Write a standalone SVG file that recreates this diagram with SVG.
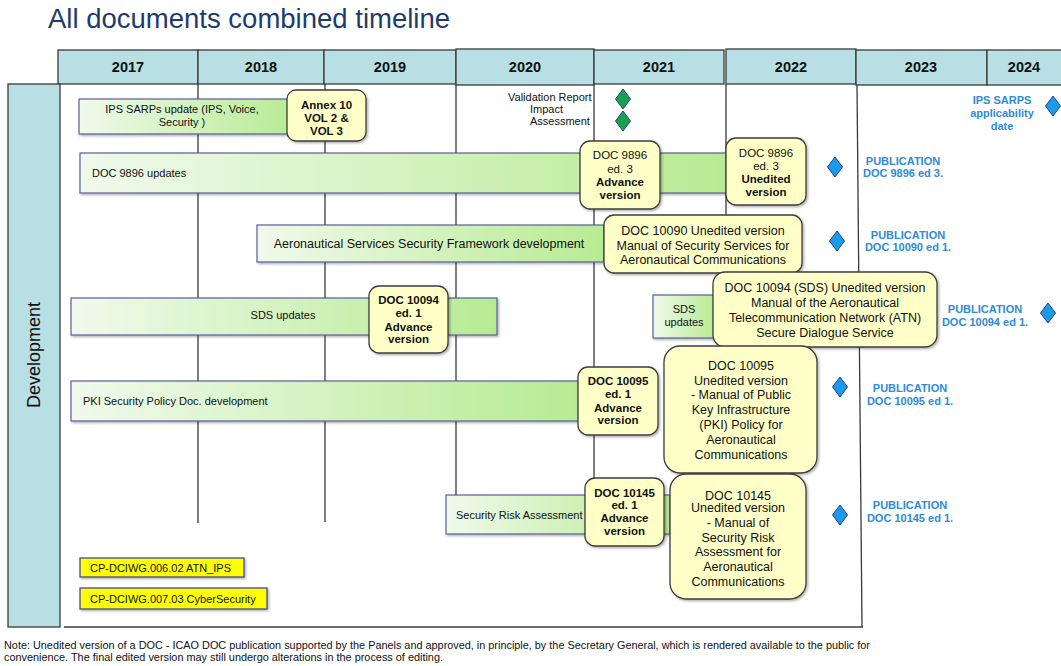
<svg xmlns="http://www.w3.org/2000/svg" width="1061" height="666" viewBox="0 0 1061 666">
<style>
text{font-family:"Liberation Sans",Arial,sans-serif;fill:#111}
.title{font-size:27.5px;fill:#1F3B6E}
.hdr{fill:#B8DFE3;stroke:#3a3a3a;stroke-width:1.3}
.yr{font-size:14.5px;font-weight:bold;text-anchor:middle}
.grid{stroke:#3a3a3a;stroke-width:1.3;fill:none}
.bar{fill:url(#g);stroke:#5A5C9E;stroke-width:1.2;filter:url(#sh)}
.box{fill:#FFFFC8;stroke:#3c3c3c;stroke-width:1.3;filter:url(#sh)}
.bt{font-size:11px}
.c{text-anchor:middle}
.b{font-weight:bold}
.s{font-size:11.5px}
.m{font-size:12.5px}
.pub{font-size:11px;font-weight:bold;fill:#2E8BD6;text-anchor:middle}
.blue{fill:#1A9BEA;stroke:#2B3F8F;stroke-width:1}
.green{fill:#17A34A;stroke:#2B3F8F;stroke-width:1}
.note{fill:#FFFF00;stroke:#3A3AA0;stroke-width:1.2;filter:url(#sh)}
</style>
<defs>
<linearGradient id="g" x1="0" y1="0" x2="1" y2="0">
<stop offset="0" stop-color="#F0FAEC"/>
<stop offset="1" stop-color="#B7EB92"/>
</linearGradient>
<filter id="sh" x="-5%" y="-10%" width="115%" height="130%">
<feDropShadow dx="1.5" dy="1.5" stdDeviation="1" flood-color="#000" flood-opacity="0.3"/>
</filter>
<path id="dia" d="M0,-10 L7.5,0 L0,10 L-7.5,0 Z"/>
</defs>
<rect width="1061" height="666" fill="#fff"/>
<text class="title" x="48" y="28">All documents combined timeline</text>

<g id="header">
<rect class="hdr" x="58" y="50" width="140" height="34"/>
<rect class="hdr" x="198" y="50" width="126" height="34"/>
<rect class="hdr" x="324" y="50" width="132" height="34"/>
<rect class="hdr" x="456" y="49" width="138" height="36"/>
<rect class="hdr" x="594" y="50" width="130" height="34"/>
<rect class="hdr" x="726" y="49" width="130" height="35"/>
<rect class="hdr" x="856" y="50" width="131" height="35"/>
<rect class="hdr" x="987" y="50" width="80" height="35"/>
<text class="yr" x="128" y="72">2017</text>
<text class="yr" x="261" y="72">2018</text>
<text class="yr" x="390" y="72">2019</text>
<text class="yr" x="525" y="72">2020</text>
<text class="yr" x="659" y="72">2021</text>
<text class="yr" x="791" y="72">2022</text>
<text class="yr" x="921" y="72">2023</text>
<text class="yr" x="1024" y="72">2024</text>
</g>

<g id="lane">
<rect class="hdr" x="8" y="84" width="52" height="543"/>
<text x="34" y="355" font-size="18" text-anchor="middle" dominant-baseline="central" transform="rotate(-90 34 355)">Development</text>
</g>

<g id="connectors">
<line class="grid" x1="198" y1="84" x2="198" y2="523"/>
<line class="grid" x1="325" y1="84" x2="325" y2="522"/>
<line class="grid" x1="456" y1="85" x2="456" y2="497"/>
<line class="grid" x1="594" y1="84" x2="594" y2="479"/>
<line class="grid" x1="726" y1="84" x2="726" y2="470"/>
<line class="grid" x1="857" y1="85" x2="862" y2="627"/>
<line class="grid" x1="64" y1="627" x2="863" y2="627" stroke-width="1.6"/>
</g>

<g id="validation">
<text class="bt" x="508" y="101">Validation Report</text>
<text class="bt" x="530" y="113">Impact</text>
<text class="bt" x="530" y="125">Assessment</text>
<use href="#dia" x="623" y="99" class="green"/>
<use href="#dia" x="623" y="121" class="green"/>
</g>

<g id="ips-sarps">
<rect class="bar" x="79" y="99" width="215" height="35"/>
<text class="bt c" x="182" y="113">IPS SARPs update (IPS, Voice,</text>
<text class="bt c" x="182" y="126">Security )</text>
</g>
<g id="annex10">
<rect class="box" x="287" y="90" width="79" height="51" rx="9"/>
<text class="s b c" x="326.5" y="108.5">Annex 10</text>
<text class="s b c" x="326.5" y="121.5">VOL 2 &amp;</text>
<text class="s b c" x="326.5" y="134.5">VOL 3</text>
</g>
<g id="ips-pub">
<text class="pub" x="1002" y="104">IPS SARPS</text>
<text class="pub" x="1002" y="117">applicability</text>
<text class="pub" x="1002" y="130">date</text>
<use href="#dia" x="1053" y="106" class="blue"/>
</g>

<g id="doc9896-bar">
<rect class="bar" x="80" y="153" width="646" height="40"/>
<text class="bt" x="92" y="177">DOC 9896 updates</text>
</g>
<g id="doc9896-adv">
<rect class="box" x="580" y="141" width="80" height="68" rx="10"/>
<text class="s c" x="620" y="159">DOC 9896</text>
<text class="s c" x="620" y="172.5">ed. 3</text>
<text class="s b c" x="620" y="186">Advance</text>
<text class="s b c" x="620" y="199">version</text>
</g>
<g id="doc9896-uned">
<rect class="box" x="726" y="138" width="80" height="67" rx="10"/>
<text class="s c" x="766" y="157">DOC 9896</text>
<text class="s c" x="766" y="170">ed. 3</text>
<text class="s b c" x="766" y="183">Unedited</text>
<text class="s b c" x="766" y="196">version</text>
</g>
<g id="doc9896-pub">
<use href="#dia" x="835" y="167" class="blue"/>
<text class="pub" x="903" y="165">PUBLICATION</text>
<text class="pub" x="903" y="177">DOC 9896 ed 3.</text>
</g>

<g id="asf-bar">
<rect class="bar" x="257" y="225" width="347" height="37"/>
<text class="m c" x="429" y="247.5">Aeronautical Services Security Framework development</text>
</g>
<g id="doc10090">
<rect class="box" x="604" y="215" width="198" height="58" rx="10"/>
<text class="m c" x="703" y="234.5">DOC 10090 Unedited version</text>
<text class="m c" x="703" y="249.5">Manual of Security Services for</text>
<text class="m c" x="703" y="264">Aeronautical Communications</text>
</g>
<g id="doc10090-pub">
<use href="#dia" x="837" y="241" class="blue"/>
<text class="pub" x="908" y="239">PUBLICATION</text>
<text class="pub" x="908" y="251">DOC 10090 ed 1.</text>
</g>

<g id="sds-bar">
<rect class="bar" x="71" y="298" width="426" height="37"/>
<text class="bt c" x="283" y="319">SDS updates</text>
</g>
<g id="doc10094-adv">
<rect class="box" x="369" y="286" width="79" height="67" rx="10"/>
<text class="s b c" x="408.5" y="304">DOC 10094</text>
<text class="s b c" x="408.5" y="317">ed. 1</text>
<text class="s b c" x="408.5" y="330.5">Advance</text>
<text class="s b c" x="408.5" y="343">version</text>
</g>
<g id="sds-bar2">
<rect class="bar" x="653" y="295" width="62" height="43"/>
<text class="bt c" x="684" y="313">SDS</text>
<text class="bt c" x="684" y="326">updates</text>
</g>
<g id="doc10094-uned">
<rect class="box" x="713" y="272" width="224" height="75" rx="12"/>
<text class="m c" x="825" y="291.5">DOC 10094 (SDS) Unedited version</text>
<text class="m c" x="825" y="307">Manual of the Aeronautical</text>
<text class="m c" x="825" y="321.5">Telecommunication Network (ATN)</text>
<text class="m c" x="825" y="336.5">Secure Dialogue Service</text>
</g>
<g id="doc10094-pub">
<text class="pub" x="985" y="313">PUBLICATION</text>
<text class="pub" x="985" y="326">DOC 10094 ed 1.</text>
<use href="#dia" x="1048" y="313" class="blue"/>
</g>

<g id="pki-bar">
<rect class="bar" x="71" y="381" width="509" height="40"/>
<text class="bt" x="83" y="405">PKI Security Policy Doc. development</text>
</g>
<g id="doc10095-adv">
<rect class="box" x="578" y="367" width="80" height="68" rx="10"/>
<text class="s b c" x="618" y="385">DOC 10095</text>
<text class="s b c" x="618" y="398">ed. 1</text>
<text class="s b c" x="618" y="412">Advance</text>
<text class="s b c" x="618" y="424">version</text>
</g>
<g id="doc10095-uned">
<rect class="box" x="664" y="346" width="153" height="127" rx="16"/>
<text class="m c" x="741" y="369.5">DOC 10095</text>
<text class="m c" x="741" y="384.5">Unedited version</text>
<text class="m c" x="741" y="399">- Manual of Public</text>
<text class="m c" x="741" y="414">Key Infrastructure</text>
<text class="m c" x="741" y="428.5">(PKI) Policy for</text>
<text class="m c" x="741" y="443.5">Aeronautical</text>
<text class="m c" x="741" y="458.5">Communications</text>
</g>
<g id="doc10095-pub">
<use href="#dia" x="840" y="387" class="blue"/>
<text class="pub" x="910" y="392">PUBLICATION</text>
<text class="pub" x="910" y="405">DOC 10095 ed 1.</text>
</g>

<g id="sra-bar">
<rect class="bar" x="446" y="495" width="224" height="39"/>
<text class="bt" x="456" y="519">Security Risk Assessment</text>
</g>
<g id="doc10145-adv">
<rect class="box" x="585" y="478" width="79" height="68" rx="10"/>
<text class="s b c" x="624.5" y="497">DOC 10145</text>
<text class="s b c" x="624.5" y="509">ed. 1</text>
<text class="s b c" x="624.5" y="522">Advance</text>
<text class="s b c" x="624.5" y="535">version</text>
</g>
<g id="doc10145-uned">
<rect class="box" x="670" y="474" width="136" height="125" rx="16"/>
<text class="m c" x="738" y="499.5">DOC 10145</text>
<text class="m c" x="738" y="511.5">Unedited version</text>
<text class="m c" x="738" y="526.5">- Manual of</text>
<text class="m c" x="738" y="541.5">Security Risk</text>
<text class="m c" x="738" y="555.5">Assessment for</text>
<text class="m c" x="738" y="570.5">Aeronautical</text>
<text class="m c" x="738" y="585.5">Communications</text>
</g>
<g id="doc10145-pub">
<use href="#dia" x="840" y="515" class="blue"/>
<text class="pub" x="910" y="509">PUBLICATION</text>
<text class="pub" x="910" y="522">DOC 10145 ed 1.</text>
</g>

<g id="cp-ips">
<rect class="note" x="80" y="558" width="164" height="19"/>
<text class="bt" x="90" y="571.5">CP-DCIWG.006.02 ATN_IPS</text>
</g>
<g id="cp-cyber">
<rect class="note" x="80" y="588" width="187" height="21"/>
<text class="bt" x="90" y="602.5">CP-DCIWG.007.03 CyberSecurity</text>
</g>

<g id="footnote">
<text class="bt" x="4" y="649" textLength="866" lengthAdjust="spacingAndGlyphs">Note: Unedited version of a DOC - ICAO DOC publication supported by the Panels and approved, in principle, by the Secretary General, which is rendered available to the public for</text>
<text class="bt" x="4" y="661" textLength="439" lengthAdjust="spacingAndGlyphs">convenience. The final edited version may still undergo alterations in the process of editing.</text>
</g>
</svg>
